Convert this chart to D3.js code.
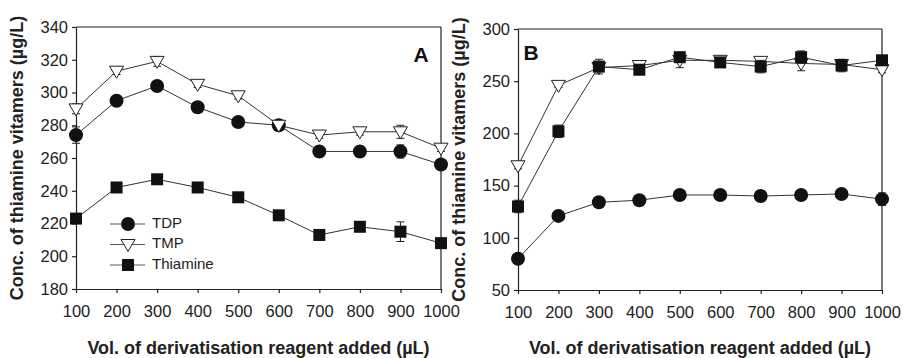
<html lang="en">
<head>
    <meta charset="utf-8">
    <title>Thiamine vitamers vs derivatisation reagent</title>
    <style>
        body { margin: 0; background: white; }
        svg { display: block; font-family: "Liberation Sans", Arial, sans-serif; }
        .axis path, .axis line { stroke: #222; stroke-width: 1.2; }
        .axis text { font-size: 16.5px; fill: #222; }
        .title { font-size: 18px; font-weight: bold; fill: #222; }
        .series { fill: none; stroke: #333; stroke-width: 1; }
        .err { stroke: #222; stroke-width: 1; }
    </style>
</head>
<body>
<svg id="chart" width="903" height="358"></svg>
<script src="https://d3js.org/d3.v7.min.js"></script>
<script>
    const volumes = [100, 200, 300, 400, 500, 600, 700, 800, 900, 1000];
    const seriesNames = ["TDP", "TMP", "Thiamine"];

    // panel A
    const tdpA = [274, 295, 304, 291, 282, 280, 264, 264, 264, 256];
    const tmpA = [290, 313, 319, 305, 298, 280, 274, 276, 276, 266];
    const thiA = [223, 242, 247, 242, 236, 225, 213, 218, 215, 208];
    const tdpAErr = [5, 2, 2, 2, 2, 2, 2, 2, 4, 2];
    const tmpAErr = [3, 2, 3, 2, 2, 2, 2, 2, 4, 2];
    const thiAErr = [2, 2, 2, 2, 2, 2, 2, 2, 6, 2];

    // panel B
    const tdpB = [80, 121, 134, 136, 141, 141, 140, 141, 142, 137];
    const tmpB = [169, 246, 263, 265, 270, 270, 269, 267, 266, 261];
    const thiB = [130, 202, 264, 261, 273, 268, 264, 273, 265, 270];
    const tdpBErr = [3, 3, 3, 3, 4, 3, 5, 3, 3, 6];
    const tmpBErr = [3, 2, 3, 3, 7, 3, 3, 7, 3, 3];
    const thiBErr = [6, 6, 7, 3, 3, 3, 6, 6, 6, 3];

    const svg = d3.select("#chart");

    function marker(g, name, x, y)
    {
        if(name === "TDP")
        {
            g.append("circle").attr("cx", x).attr("cy", y).attr("r", 7).attr("fill", "#111");
        }
        else if(name === "TMP")
        {
            g.append("path")
                .attr("d", `M${x - 7},${y - 5}L${x + 7},${y - 5}L${x},${y + 7}Z`)
                .attr("fill", "white").attr("stroke", "#222").attr("stroke-width", 1);
        }
        else
        {
            g.append("rect").attr("x", x - 6).attr("y", y - 6).attr("width", 12).attr("height", 12).attr("fill", "#111");
        }
    }

    function panel(opts)
    {
        const x = d3.scaleLinear().domain([100, 1000]).range([opts.left, opts.right]);
        const y = d3.scaleLinear().domain(opts.yDomain).range([opts.bottom, opts.top]);
        const g = svg.append("g");

        // frame
        g.append("line").attr("x1", opts.left).attr("x2", opts.right).attr("y1", opts.top).attr("y2", opts.top)
            .attr("stroke", "#222").attr("stroke-width", 1.2);
        g.append("line").attr("x1", opts.right).attr("x2", opts.right).attr("y1", opts.top).attr("y2", opts.bottom)
            .attr("stroke", "#222").attr("stroke-width", 1.2);

        g.append("g").attr("class", "axis")
            .attr("transform", `translate(0,${opts.bottom})`)
            .call(d3.axisBottom(x).tickValues(volumes).tickFormat(d3.format("d"))
                .tickSize(4).tickPadding(12).tickSizeOuter(0));
        g.append("g").attr("class", "axis")
            .attr("transform", `translate(${opts.left},0)`)
            .call(d3.axisLeft(y).tickValues(opts.yTicks).tickSize(4).tickPadding(4).tickSizeOuter(0));

        const line = d3.line().x((d, i) => x(volumes[i])).y(d => y(d));
        opts.series.forEach(s =>
        {
            g.append("path").datum(s.values).attr("class", "series").attr("d", line);
        });

        opts.series.forEach(s =>
        {
            s.values.forEach((v, i) =>
            {
                const cx = x(volumes[i]);
                const e = s.err[i];
                g.append("line").attr("class", "err").attr("x1", cx).attr("x2", cx)
                    .attr("y1", y(v - e)).attr("y2", y(v + e));
                [v - e, v + e].forEach(ev =>
                {
                    g.append("line").attr("class", "err").attr("x1", cx - 4).attr("x2", cx + 4)
                        .attr("y1", y(ev)).attr("y2", y(ev));
                });
            });
            s.values.forEach((v, i) => marker(g, s.name, x(volumes[i]), y(v)));
        });

        g.append("text").attr("class", "title")
            .attr("transform", `translate(${opts.yTitleX},${(opts.top + opts.bottom) / 2}) rotate(-90)`)
            .attr("text-anchor", "middle").attr("dominant-baseline", "middle")
            .text("Conc. of thiamine vitamers (\u00b5g/L)");
        g.append("text").attr("class", "title")
            .attr("x", (opts.left + opts.right) / 2).attr("y", 354)
            .attr("text-anchor", "middle")
            .text("Vol. of derivatisation reagent added (\u00b5L)");

        g.append("text").attr("x", opts.labelX).attr("y", opts.labelY)
            .attr("font-size", "21px").attr("font-weight", "bold").attr("fill", "#111")
            .attr("text-anchor", "middle").text(opts.label);
        return g;
    }

    const gA = panel({
        left: 76, right: 441, top: 27, bottom: 289,
        yDomain: [180, 340], yTicks: d3.range(180, 341, 20),
        yTitleX: 18, labelX: 421, labelY: 62, label: "A",
        series: [
            {name: "TDP", values: tdpA, err: tdpAErr},
            {name: "TMP", values: tmpA, err: tmpAErr},
            {name: "Thiamine", values: thiA, err: thiAErr}
        ]
    });

    panel({
        left: 518, right: 882, top: 29, bottom: 290,
        yDomain: [50, 300], yTicks: d3.range(50, 301, 50),
        yTitleX: 460, labelX: 531, labelY: 60, label: "B",
        series: [
            {name: "TDP", values: tdpB, err: tdpBErr},
            {name: "TMP", values: tmpB, err: tmpBErr},
            {name: "Thiamine", values: thiB, err: thiBErr}
        ]
    });

    // legend in panel A
    const legend = gA.append("g");
    seriesNames.forEach((name, i) =>
    {
        const ly = 224 + i * 20.5;
        legend.append("line").attr("x1", 110).attr("x2", 145).attr("y1", ly).attr("y2", ly)
            .attr("stroke", "#555").attr("stroke-width", 1);
        marker(legend, name, 128, ly);
        legend.append("text").attr("x", 152).attr("y", ly).attr("dominant-baseline", "middle")
            .attr("font-size", "15px").attr("fill", "#222").text(name);
    });
</script>
</body>
</html>
